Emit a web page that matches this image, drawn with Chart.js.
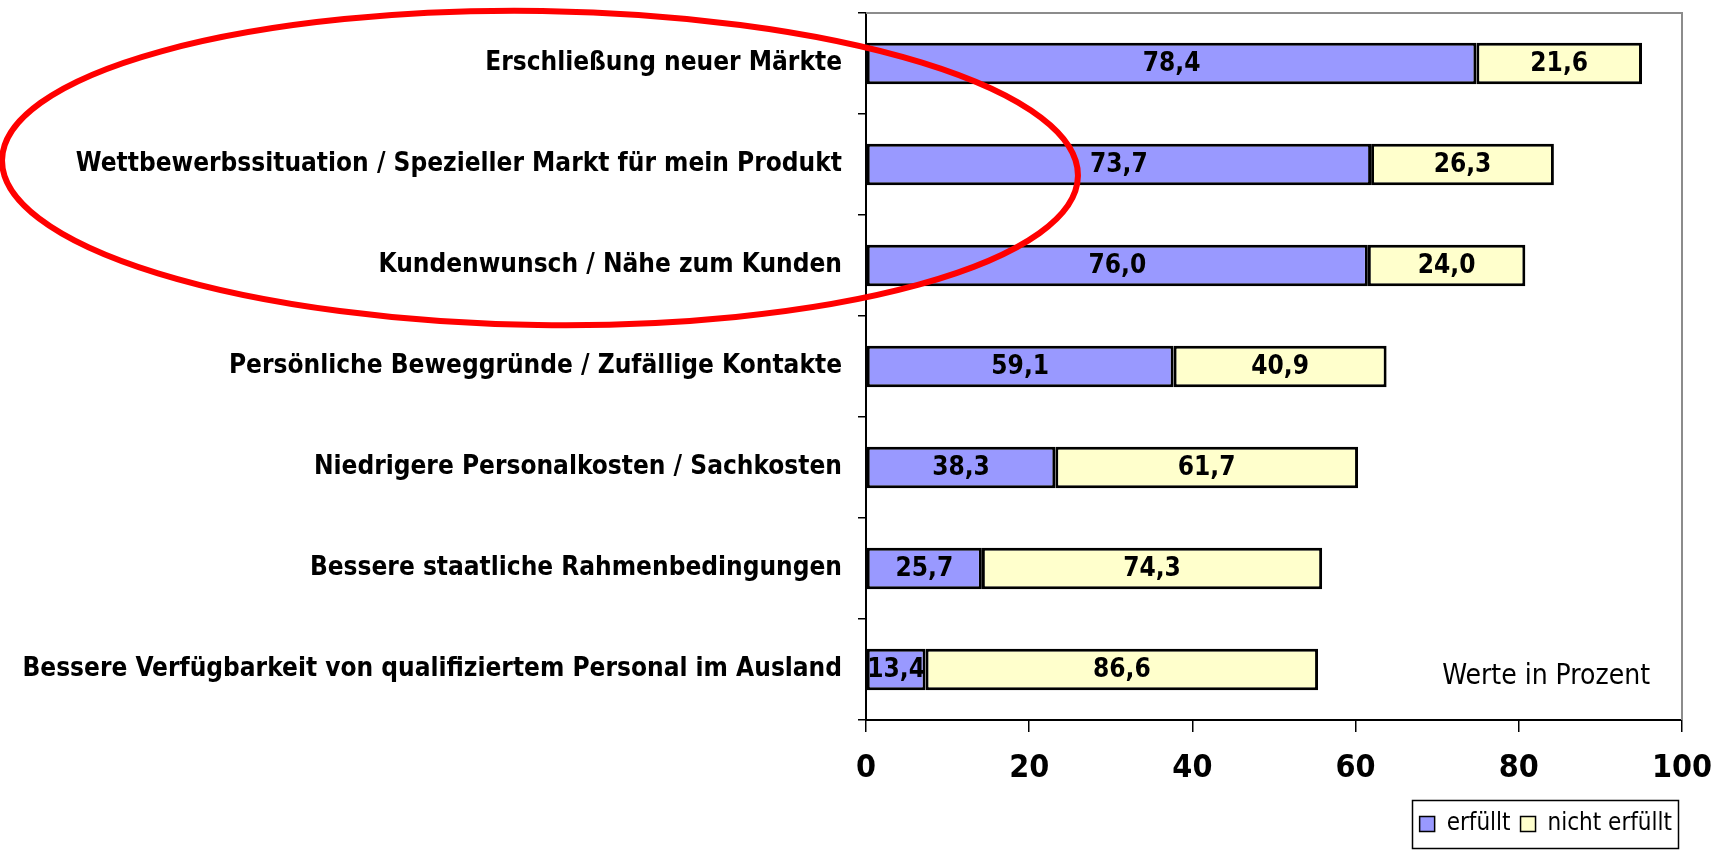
<!DOCTYPE html>
<html>
<head>
<meta charset="utf-8">
<script src="https://cdn.jsdelivr.net/npm/chart.js@4.4.1/dist/chart.umd.min.js"></script>
<style>
  html, body { margin: 0; padding: 0; background: #fff; }
  #wrap { width: 1715px; height: 853px; }
</style>
</head>
<body>
<div id="wrap"><canvas id="myChart" width="1715" height="853"></canvas></div>
<script>
const kategorien = [
  "Erschließung neuer Märkte",
  "Wettbewerbssituation / Spezieller Markt für mein Produkt",
  "Kundenwunsch / Nähe zum Kunden",
  "Persönliche Beweggründe / Zufällige Kontakte",
  "Niedrigere Personalkosten / Sachkosten",
  "Bessere staatliche Rahmenbedingungen",
  "Bessere Verfügbarkeit von qualifiziertem Personal im Ausland"
];
// Balkenlaengen (Anteil aller Nennungen)
const erfuellt = [74.8, 61.9, 61.5, 37.7, 23.2, 14.2, 7.3];
const nichtErfuellt = [20.3, 22.4, 19.3, 26.1, 37.1, 41.7, 48.1];
// Beschriftungen in den Balken
const labelErfuellt = ["78,4", "73,7", "76,0", "59,1", "38,3", "25,7", "13,4"];
const labelNicht = ["21,6", "26,3", "24,0", "40,9", "61,7", "74,3", "86,6"];
const xTicks = [0, 20, 40, 60, 80, 100];

const schrift = "'Liberation Sans Narrow', 'Arial Narrow', 'DejaVu Sans Condensed', sans-serif";

// Werte in die Balken schreiben
const balkenText = {
  id: "balkenText",
  afterDatasetsDraw(chart) {
    const ctx = chart.ctx;
    ctx.save();
    ctx.font = "bold 26px " + schrift;
    ctx.fillStyle = "#000";
    ctx.textAlign = "center";
    ctx.textBaseline = "middle";
    chart.data.datasets.forEach(function (ds, i) {
      const meta = chart.getDatasetMeta(i);
      const texte = i === 0 ? labelErfuellt : labelNicht;
      meta.data.forEach(function (bar, j) {
        const mitte = (bar.x + bar.base) / 2;
        ctx.fillText(texte[j], mitte, bar.y + 1);
      });
    });
    ctx.restore();
  }
};

// grauer Rahmen oben/rechts, Hinweis, Legendenrahmen, rote Ellipse
const rahmen = {
  id: "rahmen",
  beforeDatasetsDraw(chart) {
    const a = chart.chartArea;
    const ctx = chart.ctx;
    ctx.save();
    ctx.strokeStyle = "#8c8c8c";
    ctx.lineWidth = 2;
    ctx.beginPath();
    ctx.moveTo(a.left, a.top);
    ctx.lineTo(a.right, a.top);
    ctx.lineTo(a.right, a.bottom);
    ctx.stroke();
    ctx.restore();
  },
  afterDraw(chart) {
    const a = chart.chartArea;
    const ctx = chart.ctx;
    ctx.save();
    ctx.font = "28px " + schrift;
    ctx.fillStyle = "#000";
    ctx.textAlign = "right";
    ctx.textBaseline = "middle";
    ctx.fillText("Werte in Prozent", a.right - 32, a.bottom - 43);

    // Rahmen um die Legendeneintraege
    const boxes = chart.legend.legendHitBoxes;
    let l = Infinity, r = -Infinity, t = Infinity, b = -Infinity;
    boxes.forEach(function (hb) {
      l = Math.min(l, hb.left);
      r = Math.max(r, hb.left + hb.width);
      t = Math.min(t, hb.top);
      b = Math.max(b, hb.top + hb.height);
    });
    ctx.strokeStyle = "#000";
    ctx.lineWidth = 1.5;
    ctx.strokeRect(Math.round(l - 8) + 0.5, Math.round(t - 12) + 0.5, Math.round(r - l + 14), Math.round(b - t + 24));

    ctx.strokeStyle = "#ff0000";
    ctx.lineWidth = 6;
    ctx.beginPath();
    ctx.ellipse(540, 168, 538, 157, 0.015, 0, Math.PI * 2);
    ctx.stroke();
    ctx.restore();
  }
};

const ctx = document.getElementById("myChart");
const myChart = new Chart(ctx, {
  type: "bar",
  data: {
    labels: kategorien,
    datasets: [
      {
        label: "erfüllt",
        data: erfuellt,
        backgroundColor: "#9999ff",
        borderColor: "#000",
        borderWidth: 3,
        borderSkipped: false,
        categoryPercentage: 1,
        barPercentage: 0.41
      },
      {
        label: "nicht erfüllt",
        data: nichtErfuellt,
        backgroundColor: "#ffffcc",
        borderColor: "#000",
        borderWidth: 3,
        borderSkipped: false,
        categoryPercentage: 1,
        barPercentage: 0.41
      }
    ]
  },
  options: {
    indexAxis: "y",
    responsive: false,
    animation: false,
    layout: { padding: { left: 0, right: 33, top: 13, bottom: 7 } },
    scales: {
      x: {
        stacked: true,
        min: 0,
        max: 100,
        afterBuildTicks(scale) {
          scale.ticks = xTicks.map(function (v) { return { value: v }; });
        },
        afterFit(scale) {
          scale.paddingLeft = 0;
          scale.paddingRight = 0;
          scale.height = 82;
        },
        grid: { drawOnChartArea: false, drawTicks: true, tickLength: 12, color: "#000", lineWidth: 1.5 },
        border: { color: "#000", width: 2 },
        ticks: {
          color: "#000",
          font: { family: schrift, size: 32, weight: "bold" },
          padding: 17,
          maxRotation: 0
        }
      },
      y: {
        stacked: true,
        afterFit(scale) {
          scale.width = 866;
          scale.paddingTop = 0;
          scale.paddingBottom = 0;
        },
        grid: { drawOnChartArea: false, drawTicks: true, tickLength: 8, color: "#000", lineWidth: 1.5, offset: true },
        border: { color: "#000", width: 2 },
        ticks: {
          color: "#000",
          font: { family: schrift, size: 26, weight: "bold" },
          padding: 16,
          autoSkip: false
        }
      }
    },
    plugins: {
      tooltip: { enabled: false },
      legend: {
        position: "bottom",
        align: "end",
        labels: {
          color: "#000",
          font: { family: schrift, size: 24 },
          boxWidth: 15,
          boxHeight: 15,
          padding: 10,
          generateLabels(chart) {
            return chart.data.datasets.map(function (ds, i) {
              return {
                text: ds.label,
                fillStyle: ds.backgroundColor,
                strokeStyle: "#000",
                lineWidth: 1.5,
                datasetIndex: i
              };
            });
          }
        }
      }
    }
  },
  plugins: [balkenText, rahmen]
});
</script>
</body>
</html>
